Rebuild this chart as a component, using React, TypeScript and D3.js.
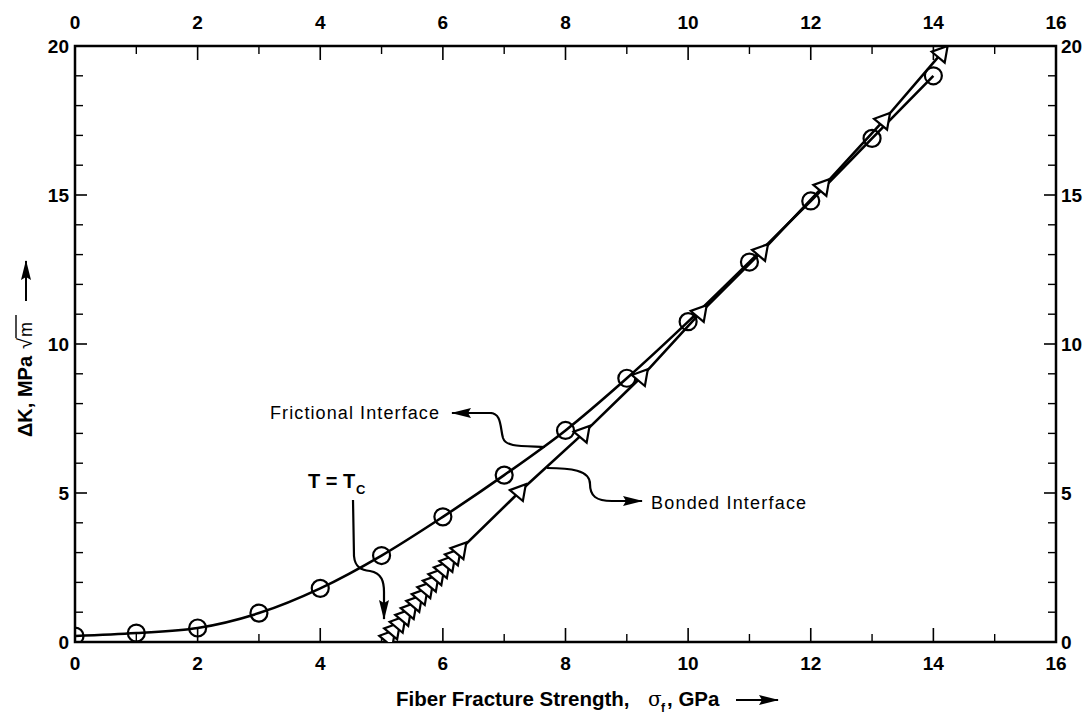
import React from "react";
import * as d3 from "d3";

// ---- data ----
const xMajorTicks = [0, 2, 4, 6, 8, 10, 12, 14, 16];
const xMinorTicks = [1, 3, 5, 7, 9, 11, 13, 15];
const yMajorTicks = [0, 5, 10, 15, 20];
const yMinorTicks = [1, 2, 3, 4, 6, 7, 8, 9, 11, 12, 13, 14, 16, 17, 18, 19];

const frictionalX = [0, 1, 2, 3, 4, 5, 6, 7, 8, 9, 10, 11, 12, 13, 14];
const frictionalY = [0.2, 0.3, 0.47, 0.97, 1.8, 2.9, 4.2, 5.6, 7.1, 8.85, 10.75, 12.75, 14.8, 16.9, 19.0];

const bondedX = [5.12, 5.2, 5.29, 5.38, 5.47, 5.56, 5.65, 5.74, 5.83, 5.92, 6.01, 6.1, 6.19, 6.28, 7.25, 8.29, 9.24, 10.2, 11.2, 12.2, 13.19, 14.13];
const bondedY = [0.15, 0.4, 0.62, 0.85, 1.08, 1.32, 1.55, 1.78, 2.0, 2.22, 2.45, 2.66, 2.88, 3.09, 5.04, 7.0, 8.9, 11.05, 13.1, 15.28, 17.5, 19.75];

const W = 1088;
const H = 716;
const M = { left: 75, right: 1056, top: 46, bottom: 642 };

export default function App() {
  const x = d3.scaleLinear().domain([0, 16]).range([M.left, M.right]);
  const y = d3.scaleLinear().domain([0, 20]).range([M.bottom, M.top]);

  const fric = frictionalX.map((v, i) => [v, frictionalY[i]] as [number, number]);
  const bond = bondedX.map((v, i) => [v, bondedY[i]] as [number, number]);

  const fricLine = d3.line<[number, number]>().x((d) => x(d[0])).y((d) => y(d[1])).curve(d3.curveCatmullRom.alpha(0.5));
  const bondLine = d3.line<[number, number]>().x((d) => x(d[0])).y((d) => y(d[1]));
  const tri = d3.symbol().type(d3.symbolTriangle).size(125)();

  const font = "'Liberation Sans Narrow', 'Liberation Sans', Arial, sans-serif";
  const sans = "'Liberation Sans', Arial, sans-serif";
  const stroke = "#000";

  return (
    <svg width={W} height={H} style={{ position: "absolute", left: 0, top: 0, background: "#fff" }} fontFamily={sans}>
      <defs>
        <marker id="ah2" viewBox="0 0 20 10" refX="19" refY="5" markerWidth="22" markerHeight="10" orient="auto" markerUnits="userSpaceOnUse">
          <path d="M0,0 L20,5 L0,10 L3,5 z" fill="#000" />
        </marker>
        <clipPath id="plot">
          <rect x={M.left} y={M.top} width={M.right - M.left} height={M.bottom - M.top} />
        </clipPath>
      </defs>

      {/* frame */}
      <rect x={M.left} y={M.top} width={M.right - M.left} height={M.bottom - M.top} fill="none" stroke={stroke} strokeWidth={2.5} />

      {/* x ticks bottom/top */}
      {xMajorTicks.map((t) => (
        <g key={"xM" + t}>
          <line x1={x(t)} x2={x(t)} y1={M.bottom} y2={M.bottom - 14} stroke={stroke} strokeWidth={1.6} />
          <line x1={x(t)} x2={x(t)} y1={M.top} y2={M.top + 14} stroke={stroke} strokeWidth={1.6} />
          <text x={x(t)} y={M.bottom + 28} textAnchor="middle" fontSize={19} fontWeight="bold" fontFamily={font}>{t}</text>
          <text x={x(t)} y={M.top - 17} textAnchor="middle" fontSize={19} fontWeight="bold" fontFamily={font}>{t}</text>
        </g>
      ))}
      {xMinorTicks.map((t) => (
        <g key={"xm" + t}>
          <line x1={x(t)} x2={x(t)} y1={M.bottom} y2={M.bottom - 8} stroke={stroke} strokeWidth={1.4} />
          <line x1={x(t)} x2={x(t)} y1={M.top} y2={M.top + 8} stroke={stroke} strokeWidth={1.4} />
        </g>
      ))}

      {/* y ticks left/right */}
      {yMajorTicks.map((t) => (
        <g key={"yM" + t}>
          <line x1={M.left} x2={M.left + 12} y1={y(t)} y2={y(t)} stroke={stroke} strokeWidth={1.6} />
          <line x1={M.right} x2={M.right - 12} y1={y(t)} y2={y(t)} stroke={stroke} strokeWidth={1.6} />
          <text x={M.left - 6} y={y(t) + 7} textAnchor="end" fontSize={19} fontWeight="bold" fontFamily={font}>{t}</text>
          <text x={M.right + 5} y={y(t) + 7} textAnchor="start" fontSize={19} fontWeight="bold" fontFamily={font}>{t}</text>
        </g>
      ))}
      {yMinorTicks.map((t) => (
        <g key={"ym" + t}>
          <line x1={M.left} x2={M.left + 8} y1={y(t)} y2={y(t)} stroke={stroke} strokeWidth={1.4} />
          <line x1={M.right} x2={M.right - 8} y1={y(t)} y2={y(t)} stroke={stroke} strokeWidth={1.4} />
        </g>
      ))}

      {/* curves */}
      <g clipPath="url(#plot)">
        <path d={fricLine(fric) || ""} fill="none" stroke={stroke} strokeWidth={2.6} />
        <path d={bondLine(bond) || ""} fill="none" stroke={stroke} strokeWidth={2.6} />
        {fric.map((d, i) => (
          <circle key={"c" + i} cx={x(d[0])} cy={y(d[1])} r={8.5} fill="none" stroke={stroke} strokeWidth={2.2} />
        ))}
        {bond.map((d, i) => (
          <path key={"t" + i} d={tri || ""} transform={`translate(${x(d[0])},${y(d[1])}) rotate(160)`} fill="#fff" stroke={stroke} strokeWidth={2.2} />
        ))}
      </g>

      {/* annotations */}
      <text x={270} y={419} fontSize={18} letterSpacing={1.1} fontFamily={sans}>Frictional Interface</text>
      <path d="M490,413 C502,413 500,428 503,438 C506,447 520,446 545,447" fill="none" stroke={stroke} strokeWidth={2.2} />
      <path d="M492,413 L452,413" fill="none" stroke={stroke} strokeWidth={2.2} markerEnd="url(#ah2)" />

      <text x={651} y={509} fontSize={18} letterSpacing={1.2} fontFamily={sans}>Bonded Interface</text>
      <path d="M547,468 C570,468 590,470 590,484 C590,496 596,501 612,501 L642,501" fill="none" stroke={stroke} strokeWidth={2.2} markerEnd="url(#ah2)" />

      <text x={308} y={488} fontSize={20} fontWeight="bold" fontFamily={sans}>T = T</text>
      <text x={356} y={494} fontSize={13} fontWeight="bold" fontFamily={sans}>C</text>
      <path d="M353,500 L354,556 C355,568 362,570 370,571 C382,573 384,582 384,592 L384,619" fill="none" stroke={stroke} strokeWidth={2.2} markerEnd="url(#ah2)" />

      {/* axis titles */}
      <g fontFamily={font} fontWeight="bold" fontSize={20.5}>
        <text x={396} y={706}>Fiber Fracture Strength,</text>
        <text x={648} y={706} fontFamily="'DejaVu Serif', serif" fontWeight="normal" fontSize={20}>σ</text>
        <text x={661} y={712} fontSize={12}>f</text>
        <text x={667} y={706}>, GPa</text>
        <line x1={736} x2={778} y1={700} y2={700} stroke={stroke} strokeWidth={2} markerEnd="url(#ah2)" />
      </g>
      <g transform="translate(32,437) rotate(-90)" fontFamily={font} fontWeight="bold" fontSize={20}>
        <text x={0} y={0}>ΔK, MPa</text>
        <text x={88} y={0} fontWeight="normal" fontFamily={sans} fontSize={20}>√</text>
        <line x1={99} x2={122} y1={-16} y2={-16} stroke={stroke} strokeWidth={1.4} />
        <text x={100} y={0} fontWeight="normal" fontFamily={sans} fontSize={18}>m</text>
        <line x1={136} x2={176} y1={-6} y2={-6} stroke={stroke} strokeWidth={2} markerEnd="url(#ah2)" />
      </g>
    </svg>
  );
}
